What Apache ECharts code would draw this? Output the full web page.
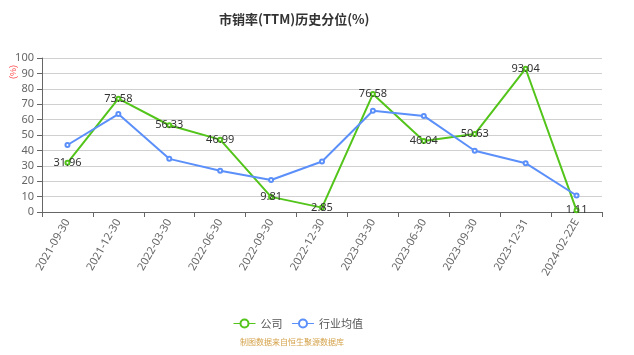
<!DOCTYPE html>
<html><head><meta charset="utf-8">
<script src="https://cdn.jsdelivr.net/npm/echarts@6/dist/echarts.min.js"></script>
<style>html,body{margin:0;padding:0;background:#fff}#c{width:634px;height:355px}</style>
</head><body><div id="c"></div>
<script>
var categories = ['2021-09-30','2021-12-30','2022-03-30','2022-06-30','2022-09-30','2022-12-30','2023-03-30','2023-06-30','2023-09-30','2023-12-31','2024-02-22E'];
var companyValues = [31.96,73.58,56.33,46.99,9.81,2.85,76.58,46.04,50.63,93.04,1.11];
var industryValues = [43.5,63.6,34.5,26.8,20.8,32.8,65.8,62.4,39.8,31.7,10.7];
var yTicks = [0,10,20,30,40,50,60,70,80,90,100];

var chart = echarts.init(document.getElementById('c'));
chart.setOption({
  animation:false,
  title:{text:'市销率(TTM)历史分位(%)',left:214,top:8,textStyle:{fontSize:13,fontWeight:'bold',color:'#333',fontFamily:'Noto Sans CJK SC'}},
  grid:{left:42,right:32,top:58,bottom:143},
  legend:{top:313,left:228,itemWidth:22,itemHeight:10,itemGap:9,textStyle:{fontSize:11,color:'#555',fontFamily:'Noto Sans CJK SC'},
    lineStyle:{width:1},
    data:['公司','行业均值']},
  graphic:[
    {type:'text',left:240,top:338,style:{text:'制图数据来自恒生聚源数据库',fill:'#d4a24a',fontSize:8,fontFamily:'Noto Sans CJK SC'}},
    {type:'text',x:14,y:72,rotation:Math.PI/2,style:{text:'(%)',fill:'#ff4d4f',fontSize:9,align:'center',verticalAlign:'middle'}}
  ],
  xAxis:{type:'category',data:categories,boundaryGap:true,
    axisLine:{lineStyle:{color:'#666'}},axisTick:{show:true,lineStyle:{color:'#666'}},
    axisLabel:{rotate:60,fontSize:11,color:'#666',interval:0,fontFamily:'Noto Sans'}},
  yAxis:{type:'value',min:0,max:100,interval:10,
    axisLine:{show:true,lineStyle:{color:'#666'}},axisTick:{show:true,lineStyle:{color:'#666'}},
    axisLabel:{fontSize:11,color:'#666',fontFamily:'Noto Sans',formatter:function(v){return yTicks.indexOf(v)>=0?String(v):'';}},
    splitLine:{lineStyle:{color:'#d0d0d0'}}},
  series:[
    {name:'公司',type:'line',data:companyValues,symbol:'emptyCircle',symbolSize:4,
      itemStyle:{color:'#52c41a'},lineStyle:{color:'#52c41a',width:2},
      label:{show:true,position:'inside',fontSize:11,color:'#333',fontFamily:'Noto Sans'}},
    {name:'行业均值',type:'line',data:industryValues,symbol:'emptyCircle',symbolSize:4,
      itemStyle:{color:'#5b8ff9'},lineStyle:{color:'#5b8ff9',width:2}}
  ]
});
</script></body></html>
